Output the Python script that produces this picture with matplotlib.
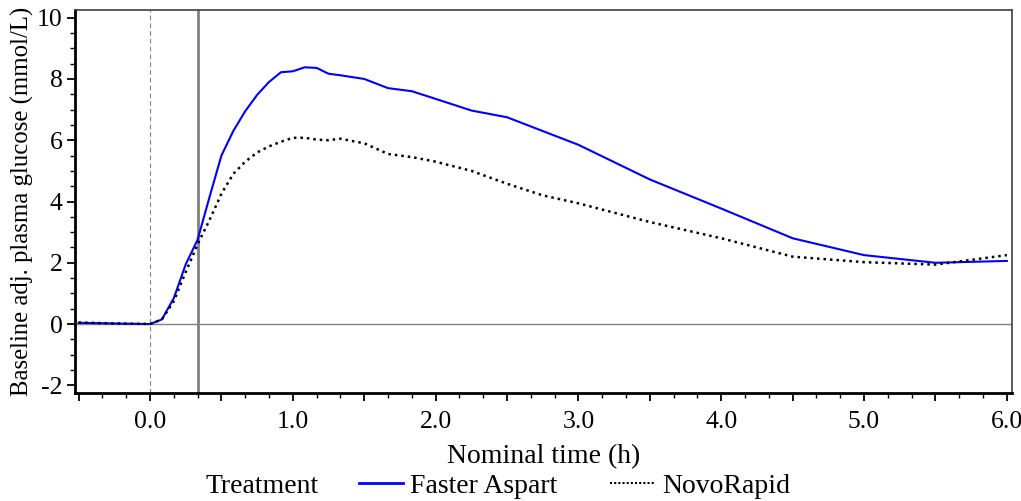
import matplotlib.pyplot as plt
import numpy as np
from matplotlib.lines import Line2D
from matplotlib.ticker import MultipleLocator, FuncFormatter

plt.rcParams['font.family'] = ['Liberation Serif', 'DejaVu Serif']

# nominal time (h) and baseline-adjusted plasma glucose (mmol/L)
time_h = [-0.5, -0.25, 0.0, 0.083, 0.167, 0.25, 0.333, 0.417, 0.5, 0.583, 0.667,
          0.75, 0.833, 0.917, 1.0, 1.083, 1.167, 1.25, 1.333, 1.5, 1.667, 1.833,
          2.0, 2.25, 2.5, 2.75, 3.0, 3.5, 4.0, 4.5, 5.0, 5.5, 6.0]
faster_aspart = [0.04, 0.02, 0.0, 0.15, 0.85, 1.95, 2.75, 4.15, 5.5, 6.3, 6.95,
                 7.48, 7.9, 8.22, 8.25, 8.38, 8.36, 8.17, 8.12, 8.0, 7.7, 7.6,
                 7.35, 6.97, 6.75, 6.3, 5.85, 4.72, 3.77, 2.8, 2.25, 2.0, 2.06]
novorapid = [0.05, 0.02, 0.0, 0.15, 0.75, 1.7, 2.6, 3.4, 4.25, 4.9, 5.3,
             5.6, 5.8, 5.95, 6.08, 6.08, 6.02, 6.0, 6.05, 5.9, 5.55, 5.45,
             5.3, 5.0, 4.58, 4.2, 3.94, 3.33, 2.8, 2.2, 2.02, 1.94, 2.25]

fig = plt.figure(figsize=(10.21, 5.01), dpi=100)
ax = fig.add_axes([0.0735, 0.2156, 0.9174, 0.7644])

ax.axhline(0, color='#808080', lw=1.0, zorder=1)
ax.axvline(0, color='#808080', lw=0.8, ls=(0, (4, 3)), zorder=1)
ax.axvline(1/3, color='#808080', lw=2.0, zorder=1)

ax.plot(time_h, faster_aspart, color='#0000ff', lw=1.5, label='Faster Aspart', zorder=3)
ax.plot(time_h, novorapid, color='black', lw=1.8, ls=(0, (1, 1.6)), label='NovoRapid', zorder=3)

ax.set_xlim(-0.525, 6.034)
ax.set_ylim(-2.25, 10.25)

ax.xaxis.set_major_locator(MultipleLocator(0.5))
ax.xaxis.set_minor_locator(MultipleLocator(1/6))
ax.xaxis.set_major_formatter(FuncFormatter(
    lambda x, pos: f'{x:.1f}' if abs(x - round(x)) < 1e-6 else ''))
ax.yaxis.set_major_locator(MultipleLocator(2))
ax.yaxis.set_minor_locator(MultipleLocator(0.5))
ax.yaxis.set_major_formatter(FuncFormatter(lambda y, pos: f'{y:.0f}'))

ax.tick_params(axis='both', which='major', length=6, width=1.3, labelsize=18.5, colors='black', pad=3)
ax.tick_params(axis='both', which='minor', length=3.5, width=1.0)
ax.tick_params(axis='x', which='major', pad=7)

for side in ['left', 'bottom']:
    ax.spines[side].set_linewidth(2.0)
    ax.spines[side].set_color('black')
for side in ['top', 'right']:
    ax.spines[side].set_linewidth(1.2)
    ax.spines[side].set_color('#404040')

ax.set_xlabel('Nominal time (h)', fontsize=20, labelpad=8)
ax.set_ylabel('Baseline adj. plasma glucose (mmol/L)', fontsize=17.8, labelpad=2)

fig.text(0.201, 0.016, 'Treatment', fontsize=20, ha='left', va='baseline')
handles = [Line2D([], [], color='#0000ff', lw=2.0),
           Line2D([], [], color='black', lw=1.5, ls=(0, (1, 1)))]
fig.legend(handles, ['Faster Aspart', 'NovoRapid'], loc='lower left',
           bbox_to_anchor=(0.338, -0.024), ncol=2, frameon=False, fontsize=20,
           borderpad=0, handlelength=1.6, handletextpad=0.25, columnspacing=1.9)

fig.savefig('out.png', dpi=100)
